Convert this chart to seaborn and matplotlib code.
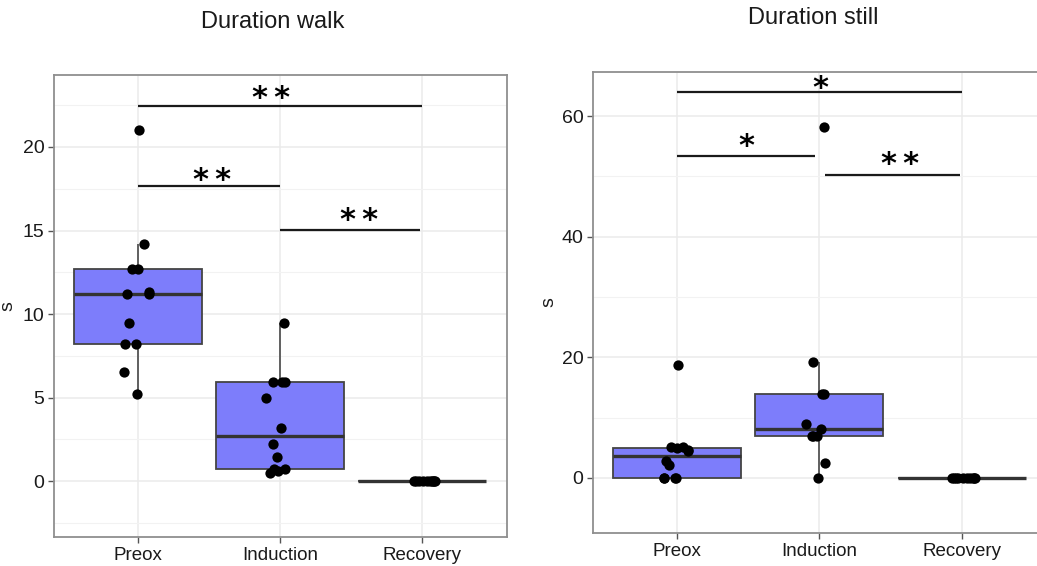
import numpy as np
import pandas as pd
import matplotlib
matplotlib.use("Agg")
import matplotlib.pyplot as plt
from matplotlib.ticker import MultipleLocator
import seaborn as sns

# ---- data -------------------------------------------------------------
phases = ["Preox", "Induction", "Recovery"]

preox_walk = [21.0, 14.2, 12.7, 12.7, 11.3, 11.2, 11.2, 9.45, 8.2, 8.2, 6.5, 5.2]
induction_walk = [9.45, 5.95, 5.95, 5.95, 5.0, 3.2, 2.2, 1.45, 0.72, 0.72, 0.6, 0.46]
recovery_walk = [0, 0, 0, 0, 0, 0, 0, 0, 0, 0]

preox_still = [18.8, 5.1, 5.1, 5.0, 4.6, 4.5, 2.8, 2.2, 0, 0, 0, 0]
induction_still = [58.1, 19.2, 14.0, 14.0, 9.0, 8.1, 6.9, 6.9, 6.9, 2.5, 0]
recovery_still = [0, 0, 0, 0, 0, 0, 0, 0, 0, 0]

walk_stars = ["**", "**", "**"]
still_stars = ["*", "*", "**"]


def long_frame(groups):
    rows = []
    for phase, vals in zip(phases, groups):
        rows += [(phase, v) for v in vals]
    return pd.DataFrame(rows, columns=["phase", "value"])


walk_df = long_frame([preox_walk, induction_walk, recovery_walk])
still_df = long_frame([preox_still, induction_still, recovery_still])

# ---- style ------------------------------------------------------------
sns.set_theme(style="white")
plt.rcParams["font.family"] = ["Liberation Sans", "DejaVu Sans"]

W, H = 1037, 566
fig = plt.figure(figsize=(W / 100, H / 100), dpi=100)


def px_axes(x0, y0, x1, y1):
    return fig.add_axes([x0 / W, 1 - y1 / H, (x1 - x0) / W, (y1 - y0) / H])


ax1 = px_axes(54, 75, 507, 537)
ax2 = px_axes(593, 72, 1047, 533)

BOX_FILL = "#7D7DFB"
EDGE = "#444444"


def draw_panel(ax, df, ylim, major, minor, label_x, brackets):
    np.random.seed(3)
    sns.boxplot(
        data=df, x="phase", y="value", order=phases, ax=ax,
        width=0.9, showfliers=False, showcaps=False, saturation=1,
        color=BOX_FILL, linecolor=EDGE, linewidth=1.3,
        medianprops=dict(color="#333333", linewidth=2.4),
        whiskerprops=dict(color="#555555", linewidth=1.3),
        zorder=2,
    )
    sns.stripplot(
        data=df, x="phase", y="value", order=phases, ax=ax,
        color="black", size=7.4, jitter=0.1, linewidth=0, zorder=3,
    )
    ax.set_xlim(-0.59, 2.6)
    ax.set_ylim(*ylim)
    ax.yaxis.set_major_locator(MultipleLocator(major))
    ax.yaxis.set_minor_locator(MultipleLocator(minor))
    ax.set_axisbelow(True)
    ax.grid(True, which="major", color="#EBEBEB", linewidth=1.1)
    ax.grid(True, which="minor", axis="y", color="#F2F2F2", linewidth=0.8)
    for sp in ax.spines.values():
        sp.set_color("#8f8f8f")
        sp.set_linewidth(1.3)
        sp.set_visible(True)
    ax.tick_params(axis="both", which="major", length=4, width=1,
                   color="#555555", labelcolor="#1a1a1a",
                   left=True, bottom=True, pad=3)
    ax.tick_params(axis="x", labelsize=13.5)
    ax.tick_params(axis="y", labelsize=14)
    ax.tick_params(axis="y", which="minor", length=0)
    ax.set_xlabel("")
    ax.set_ylabel("s", fontsize=14, color="#1a1a1a")
    ax.yaxis.set_label_coords(label_x, 0.5)

    for (x0, x1, yl, xt, yt, label) in brackets:
        ax.plot([x0, x1], [yl, yl], color="#1a1a1a", linewidth=1.6,
                solid_capstyle="butt", zorder=4)
        ax.text(xt, yt, "\u2009".join(label), ha="center", va="center",
                fontsize=22, fontweight="bold", family="DejaVu Sans",
                color="black", zorder=4)


draw_panel(
    ax1, walk_df, (-3.35, 24.31), 5, 2.5, -0.082,
    [
        (0.0, 2.0, 22.47, 0.94, 22.9, walk_stars[0]),
        (0.0, 1.0, 17.68, 0.525, 18.0, walk_stars[1]),
        (1.0, 1.99, 15.03, 1.555, 15.6, walk_stars[2]),
    ],
)
draw_panel(
    ax2, still_df, (-9.12, 67.3), 20, 10, -0.079,
    [
        (0.0, 2.0, 63.96, 1.01, 64.6, still_stars[0]),
        (0.0, 0.97, 53.3, 0.49, 54.9, still_stars[1]),
        (1.04, 1.99, 50.3, 1.57, 51.9, still_stars[2]),
    ],
)

fig.text(273 / W, 1 - 22 / H, "Duration walk", ha="center", va="center",
         fontsize=17, color="#1a1a1a")
fig.text(813 / W, 1 - 18 / H, "Duration still", ha="center", va="center",
         fontsize=17, color="#1a1a1a")

fig.savefig("out.png", dpi=100, facecolor="white")
